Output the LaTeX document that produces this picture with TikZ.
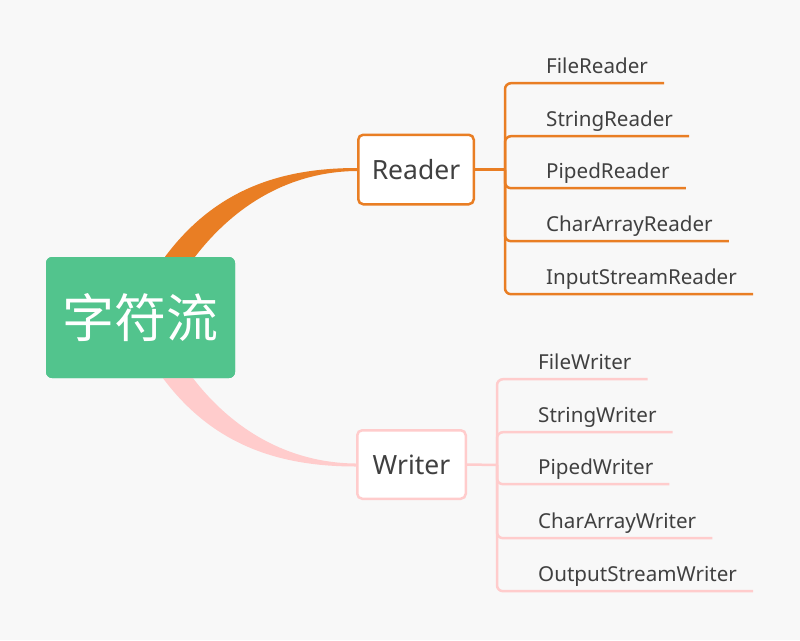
\documentclass[tikz,border=0pt]{standalone}
\usepackage{fontspec}
\setmainfont{Noto Sans}
\newfontfamily\cjk{Noto Sans CJK SC}
\usetikzlibrary{calc}
\definecolor{bgcol}{RGB}{248,248,248}
\definecolor{rootcol}{RGB}{82,196,141}
\definecolor{readcol}{RGB}{233,126,36}
\definecolor{writecol}{RGB}{255,204,204}
\definecolor{txtcol}{RGB}{64,64,64}
\tikzset{
  root/.style = {rectangle, rounded corners=6pt, fill=rootcol, text=white,
                 minimum width=189pt, minimum height=121pt,
                 font=\cjk\fontsize{52}{52}\selectfont},
  branch/.style = {rectangle, rounded corners=5pt, draw=#1, line width=2.5pt,
                   fill=white, text=txtcol, font=\fontsize{26.5}{27}\selectfont},
  leaf/.style = {anchor=base west, inner xsep=16pt, inner ysep=4pt,
                 text height=15pt, text depth=6pt, text=txtcol,
                 font=\fontsize{20.6}{24}\selectfont},
  twig/.style = {draw=#1, line width=2.5pt, rounded corners=6pt},
  stem/.style = {fill=#1},
}
\begin{document}
\begin{tikzpicture}[x=1pt,y=-1pt]
\useasboundingbox (0,0) rectangle (800,640);
\fill[bgcol] (0,0) rectangle (800,640);
% main nodes
\node[root] (root) at (140.5,317.5) {字符流};
\coordinate (rhub) at (505,169.5);
\coordinate (whub) at (497,465);
% tapered stems
\fill[stem=readcol] ($(root.north)+(24.5,0)$) .. controls +(50,-67) and +(-77,0) .. (357,168)
   -- (357,171) .. controls +(-67,0.5) and +(40,-52) .. ($(root.north)+(54.5,0)$) -- cycle;
\fill[stem=writecol] ($(root.south)+(22.5,0)$) .. controls +(50,67) and +(-77,0) .. (356,466.5)
   -- (356,463.5) .. controls +(-67,-0.5) and +(40,52) .. ($(root.south)+(52.5,0)$) -- cycle;
\node[root] at (root) {字符流};
\node[branch=readcol, minimum width=115.5pt, minimum height=69.5pt] (reader) at (416,169.5) {Reader};
\node[branch=writecol, minimum width=108.5pt, minimum height=68.5pt] (writer) at (411.5,464.5) {Writer};
% reader leaves
\node[leaf] (r1) at (530,73) {FileReader};
\node[leaf] (r2) at (530,126) {StringReader};
\node[leaf] (r3) at (530,178) {PipedReader};
\node[leaf] (r4) at (530,231) {CharArrayReader};
\node[leaf] (r5) at (530,284) {InputStreamReader};
% writer leaves
\node[leaf] (w1) at (522,369) {FileWriter};
\node[leaf] (w2) at (522,422) {StringWriter};
\node[leaf] (w3) at (522,474) {PipedWriter};
\node[leaf] (w4) at (522,528) {CharArrayWriter};
\node[leaf] (w5) at (522,581) {OutputStreamWriter};
% connectors
\draw[twig=readcol] (reader.east) -- (rhub);
\draw[twig=readcol] (rhub) |- (r1.south east);
\draw[twig=readcol] (rhub) |- (r2.south east);
\draw[twig=readcol] (rhub) |- (r3.south east);
\draw[twig=readcol] (rhub) |- (r4.south east);
\draw[twig=readcol] (rhub) |- (r5.south east);
\draw[twig=writecol] (writer.east) -- (whub);
\draw[twig=writecol] (whub) |- (w1.south east);
\draw[twig=writecol] (whub) |- (w2.south east);
\draw[twig=writecol] (whub) |- (w3.south east);
\draw[twig=writecol] (whub) |- (w4.south east);
\draw[twig=writecol] (whub) |- (w5.south east);
\end{tikzpicture}
\end{document}
